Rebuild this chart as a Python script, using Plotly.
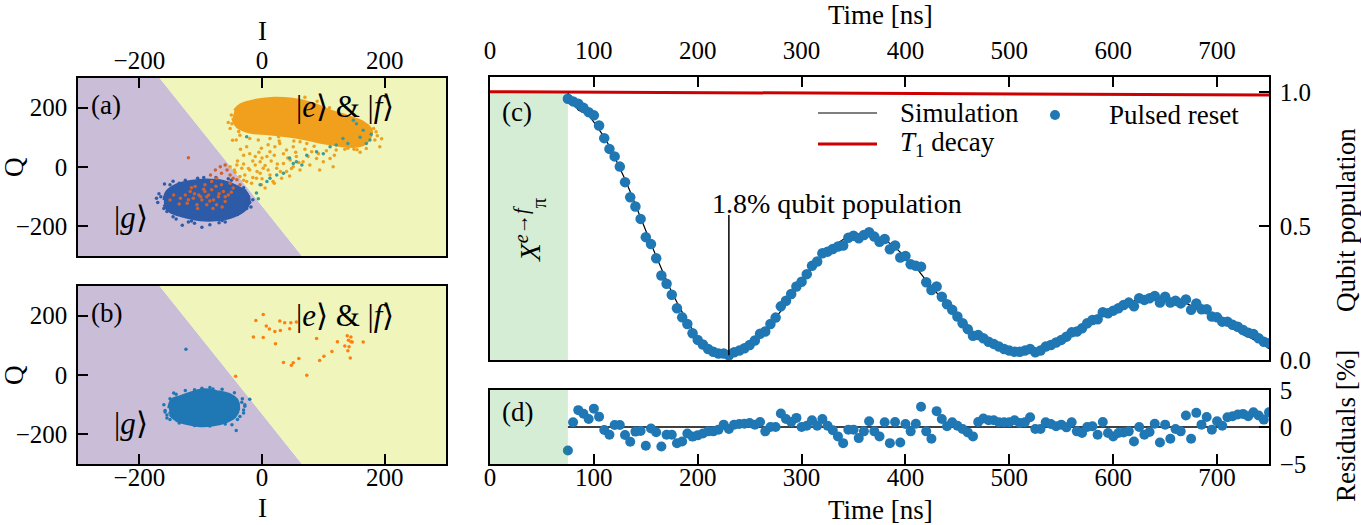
import plotly.graph_objects as go

W, H = 1361, 525
FONT = "Liberation Serif"

# ---------------- IQ readout panels (a) and (b) ----------------
iq_lim = [-300, 300]
iq_ticks = [-200, 0, 200]
# decision boundary between |g> and |e>,|f> (where it meets the top and bottom edges)
boundary_I = [-167, 65]
boundary_Q = [300, -300]

# (a) after the pi pulse: dense |e>/|f> blob outline
gold_core_I = [-45, -35, -10, 20, 50, 80, 110, 140, 165, 178, 175, 160, 130, 100, 70, 40, 10, -20, -40, -48]
gold_core_Q = [190, 210, 225, 232, 228, 215, 190, 170, 150, 125, 95, 72, 72, 82, 95, 105, 112, 118, 135, 165]
gold_I = [-52, -49, -42, -36, -25, -30, -41, -33, -28, -20, -11, -3, 8, 13, 21, 29, 40, 51, 62, 73,
          81, 89, 100, 111, 116, 121, 132, 140, 165, 176, 186, 192, 184, -9, -1, 5, -17, -25, -36, -44,
          -52, -3, 13, 24, 35, 46, 56, 67, 40, 18, 32, 62, 78, 94, 51, 2, -11, -1, 13, -20, -6, 27, 46,
          -45, -40, -30, -22, -15, -8, 0, 5, 10, 15, 20, 25, 30, 35, 42, 48, 55, 60, 70, 75, 85, 92, 105,
          118, 125, 150, 160, -5, -20, -35, 10, 28, 52, -48, -38, 0, -15, 20, -30, 45, 188, 195, 182, -50,
          -55, 170, 155, 135, 70, 90, 110]
gold_Q = [130, 146, 91, 107, 68, 40, 7, -4, -27, -10, 7, 18, 35, 51, 68, 79, 57, 68, 85, 79,
          51, 29, 18, 29, 1, 57, 74, 63, 96, 107, 119, 68, 91, -38, -60, -71, -55, -49, -32, -18,
          1, -21, -27, -4, 12, 24, 35, 18, -15, -49, -38, -10, 7, -10, 1, -4, 35, 63, 96, 96, 91, 102, 107,
          -10, 20, 10, -5, 20, -15, 30, 5, -10, 20, 40, 10, -15, 45, 30, -5, 50, 15, 60, 35, 70, 45, 55,
          40, 85, 60, 50, 50, 45, 60, 75, 88, 88, 90, 120, -40, -35, -55, -45, -30, 105, 95, 130, 175,
          150, 62, 58, 60, 235, 222, 200]
teal_I = [149, 154, 165, 176, 170, 140, 121, 89, 73, 56, 51, 65, 35, 24, 13, 8, -3, -9, -25, 111, 132, -6,
          178, 160, 45, 100]
teal_Q = [158, 146, 124, 91, 79, 79, 74, 51, 40, 18, 12, 7, -21, -27, -38, -49, -60, -88, 102, 68, 96, -107,
          110, 100, 30, 45]
blue_core_a_I = [-160, -155, -139, -117, -90, -63, -41, -25, -21, -28, -47, -74, -101, -128, -150, -160]
blue_core_a_Q = [-111, -83, -60, -49, -44, -49, -66, -88, -116, -144, -166, -178, -178, -166, -150, -127]
blue_a_I = [-159, -98, -130, -165, -150, -30, -20, -40, -60, -140, -110, -170, -125, -75, -50, -35, -160, -85,
            -145, -105, -65, -22, -18, -172, -120, -168, -155, -135, -95, -55, -28, -15, -25, -70, -115, -145]
blue_a_Q = [-57, -203, -196, -100, -60, -70, -120, -160, -185, -175, -190, -120, -45, -35, -45, -150, -140, -195,
            -48, -38, -180, -100, -135, -105, -185, -90, -150, -55, -35, -40, -80, -110, -140, -188, -182, -168]
verm_I = [-84, -76, -68, -60, -57, -52, -47, -41, -66, -74, -82, -52, -36, -93, -103, -112, -98, -87, -79,
          -71, -63, -55, -47, -117, -122, -106, -90, -74, -60, -133, -144, -150, -93, -82, -66, -109, -125,
          -120, -100, -85, -70, -110, -95, -60, -120, -80, -105, -65, -135, -50, -90, -75, -115]
verm_Q = [-27, -10, 1, 7, -10, -27, -38, -43, -21, -38, -49, -55, -60, -60, -94, -105, -111, -94, -111,
          -100, -83, -94, -71, -83, -122, -127, -127, -127, -116, -105, -94, -111, -83, -77, -60, -66, -94,
          31, -100, -115, -90, -90, -75, -100, -110, -140, -140, -135, -125, -85, -100, -65, -70]

# (b) after pulsed reset
blue_core_b_I = [-152, -147, -133, -117, -95, -74, -52, -41, -38, -44, -57, -79, -101, -122, -139, -150]
blue_core_b_Q = [-112, -84, -73, -61, -50, -56, -67, -84, -112, -140, -156, -168, -171, -164, -153, -134]
blue_b_I = [-124, -20, -42, -155, -144, -98, -28, -36, -49, -150, -30, -110, -80, -158, -33,
            -160, -158, -150, -140, -125, -85, -65, -45, -32, -28, -30, -40, -60, -85, -110, -135, -150, -155]
blue_b_Q = [87, -82, -187, -145, -61, -45, -100, -140, -168, -128, -118, -50, -47, -120, -92,
            -100, -125, -80, -65, -52, -42, -48, -60, -80, -105, -128, -150, -165, -172, -170, -162, -150, -135]
orange_b_I = [2, -10, 29, 37, 47, 56, 7, 12, 21, 30, 45, -14, 2, 22, 89, 123, 139, 145, 141, 145, 147,
              135, 142, 140, 165, 114, 101, 94, 60, 35, 51, 48, 144, 73, -43]
orange_b_Q = [204, 184, 182, 176, 176, 179, 165, 155, 147, 150, 156, 128, 126, 105, 123, 112, 132, 128,
              117, 112, 111, 98, 95, 82, 111, 79, 63, 49, 56, 42, 41, 33, 57, -1, -4]

# ---------------- time traces (c) and (d) ----------------
time_ns = list(range(75, 755, 5))
pulsed = [0.974, 0.964, 0.955, 0.940, 0.924, 0.912, 0.874, 0.827, 0.787, 0.759, 0.721, 0.663, 0.607, 0.572,
          0.526, 0.458, 0.432, 0.379, 0.315, 0.284, 0.243, 0.193, 0.159, 0.134, 0.100, 0.075, 0.058, 0.041,
          0.031, 0.024, 0.024, 0.018, 0.029, 0.035, 0.044, 0.056, 0.073, 0.098, 0.106, 0.134, 0.158, 0.200,
          0.221, 0.246, 0.274, 0.292, 0.320, 0.351, 0.367, 0.398, 0.404, 0.414, 0.423, 0.427, 0.456, 0.463,
          0.454, 0.466, 0.476, 0.460, 0.441, 0.451, 0.413, 0.427, 0.382, 0.388, 0.357, 0.351, 0.348, 0.290,
          0.261, 0.274, 0.236, 0.208, 0.187, 0.162, 0.137, 0.115, 0.090, 0.093, 0.081, 0.068, 0.060, 0.050,
          0.041, 0.035, 0.031, 0.031, 0.035, 0.041, 0.029, 0.035, 0.050, 0.056, 0.065, 0.075, 0.087, 0.103,
          0.106, 0.118, 0.137, 0.149, 0.152, 0.178, 0.174, 0.184, 0.193, 0.205, 0.214, 0.200, 0.230, 0.224,
          0.230, 0.239, 0.214, 0.236, 0.214, 0.221, 0.211, 0.226, 0.187, 0.211, 0.189, 0.189, 0.162, 0.159,
          0.143, 0.143, 0.131, 0.124, 0.112, 0.102, 0.097, 0.081, 0.068, 0.062]
simulation = [0.995, 0.958, 0.932, 0.922, 0.913, 0.887, 0.860, 0.831, 0.797, 0.756, 0.718, 0.674, 0.627,
              0.578, 0.532, 0.483, 0.434, 0.386, 0.341, 0.294, 0.253, 0.215, 0.179, 0.143, 0.113, 0.086,
              0.067, 0.047, 0.037, 0.028, 0.021, 0.021, 0.026, 0.031, 0.040, 0.051, 0.070, 0.091, 0.112,
              0.134, 0.158, 0.182, 0.210, 0.239, 0.262, 0.292, 0.318, 0.342, 0.365, 0.387, 0.402, 0.419,
              0.436, 0.449, 0.460, 0.467, 0.469, 0.472, 0.468, 0.466, 0.454, 0.445, 0.435, 0.420, 0.403,
              0.384, 0.363, 0.346, 0.321, 0.296, 0.277, 0.253, 0.225, 0.207, 0.181, 0.160, 0.140, 0.122,
              0.103, 0.086, 0.070, 0.059, 0.051, 0.044, 0.035, 0.029, 0.022, 0.026, 0.029, 0.028, 0.032,
              0.038, 0.044, 0.052, 0.064, 0.072, 0.087, 0.097, 0.112, 0.126, 0.137, 0.148, 0.162, 0.171,
              0.182, 0.197, 0.201, 0.212, 0.220, 0.220, 0.230, 0.234, 0.237, 0.235, 0.235, 0.233, 0.230,
              0.224, 0.217, 0.211, 0.203, 0.192, 0.186, 0.175, 0.166, 0.151, 0.141, 0.130, 0.116, 0.107,
              0.094, 0.087, 0.077, 0.066, 0.058, 0.042]
residuals = [-3.18, 0.64, 2.28, 1.80, 1.09, 2.48, 1.40, -0.40, -1.04, 0.28, 0.28, -1.08, -2.00, -0.62, -0.55,
             -2.54, -0.20, -0.70, -2.64, -1.04, -1.04, -2.20, -1.95, -0.88, -1.30, -1.13, -0.88, -0.59, -0.59,
             -0.36, 0.32, -0.27, 0.32, 0.41, 0.45, 0.55, 0.32, 0.68, -0.59, 0.00, 0.00, 1.82, 1.09, 0.68, 1.23,
             0.00, 0.18, 0.91, 0.18, 1.09, 0.18, -0.45, -1.27, -2.18, -0.36, -0.36, -1.50, -0.59, 0.77, -0.59,
             -1.27, 0.64, -2.18, 0.68, -2.09, 0.40, -0.59, 0.45, 2.73, -0.59, -1.59, 2.14, 1.09, 0.09, 0.64,
             0.18, -0.27, -0.73, -1.27, 0.68, 1.14, 0.91, 0.91, 0.64, 0.64, 0.64, 0.91, 0.55, 0.64, 1.32,
             -0.27, -0.27, 0.64, 0.41, 0.09, 0.32, -0.05, 0.64, -0.59, -0.82, 0.00, 0.09, -1.04, 0.68, -0.82,
             -1.27, -0.82, -0.73, -0.59, -1.95, 0.00, -1.04, -0.68, 0.45, -2.09, 0.32, -1.59, -0.27, -0.59,
             1.55, -1.59, 1.91, 0.32, 1.36, -0.36, 0.77, 0.18, 1.32, 1.46, 1.68, 1.77, 1.46, 2.00, 1.55, 1.00,
             2.00]
t1_time = [0, 150, 300, 450, 600, 750]
t1_pop = [1.000, 0.998, 0.995, 0.993, 0.990, 0.988]
pulse_window = [0, 75]
resid_zero_t = [75, 750]
resid_zero = [0, 0]
min_time, min_pop, min_label_pop = 230, 0.018, 0.541
time_range = [0, 750]
time_ticks = [0, 100, 200, 300, 400, 500, 600, 700]
pop_range = [0, 1.055]
pop_ticks = [0.0, 0.5, 1.0]
resid_range = [-5, 5]
resid_ticks = [-5, 0, 5]

# colours
PURPLE_BG = "#c9bdd7"
YELLOW_BG = "#eff5bb"
GOLD = "#f0a01c"
TEAL = "#3a9b9b"
DARK_BLUE = "#2d5ba8"
VERMILION = "#d2612c"
C_BLUE = "#1f77b4"
C_ORANGE = "#ff7f0e"
GREEN_SPAN = "rgba(44,160,44,0.2)"
RED = "#cc0000"

TXT = 27
TICK = 25


def minus(v):
    return f"{v:g}".replace("-", "\u2212")


def px(x):
    return x / W


def py(y):
    return 1 - y / H


fig = go.Figure()


def cloud(xs, ys, color, xa, ya):
    fig.add_trace(go.Scatter(x=xs, y=ys, mode="lines", fill="toself", fillcolor=color,
                             line=dict(color=color, width=3, shape="spline"), xaxis=xa, yaxis=ya,
                             hoverinfo="skip"))


def dots(xs, ys, color, xa, ya, size=3.5):
    fig.add_trace(go.Scatter(x=xs, y=ys, mode="markers", marker=dict(color=color, size=size, line=dict(width=0)),
                             xaxis=xa, yaxis=ya, hoverinfo="skip"))


# (a)
cloud(blue_core_a_I, blue_core_a_Q, DARK_BLUE, "x", "y")
dots(blue_a_I, blue_a_Q, DARK_BLUE, "x", "y")
dots(verm_I, verm_Q, VERMILION, "x", "y")
cloud(gold_core_I, gold_core_Q, GOLD, "x", "y")
dots(gold_I, gold_Q, GOLD, "x", "y")
dots(teal_I, teal_Q, TEAL, "x", "y")
# (b)
cloud(blue_core_b_I, blue_core_b_Q, C_BLUE, "x2", "y2")
dots(blue_b_I, blue_b_Q, C_BLUE, "x2", "y2")
dots(orange_b_I, orange_b_Q, C_ORANGE, "x2", "y2")

# (c)
fig.add_trace(go.Scatter(x=t1_time, y=t1_pop, mode="lines", line=dict(color=RED, width=3),
                         xaxis="x3", yaxis="y3", hoverinfo="skip"))
fig.add_trace(go.Scatter(x=time_ns, y=simulation, mode="lines", line=dict(color="black", width=1.2),
                         xaxis="x3", yaxis="y3", hoverinfo="skip"))
fig.add_trace(go.Scatter(x=time_ns, y=pulsed, mode="markers", marker=dict(color=C_BLUE, size=10.5, line=dict(width=0)),
                         xaxis="x3", yaxis="y3", hoverinfo="skip"))
# (d)
fig.add_trace(go.Scatter(x=resid_zero_t, y=resid_zero, mode="lines", line=dict(color="black", width=1.5),
                         xaxis="x4", yaxis="y4", hoverinfo="skip"))
fig.add_trace(go.Scatter(x=time_ns, y=residuals, mode="markers", marker=dict(color=C_BLUE, size=10, line=dict(width=0)),
                         xaxis="x4", yaxis="y4", hoverinfo="skip"))

shapes = []
for xr, yr in (("x", "y"), ("x2", "y2")):
    lo, hi = iq_lim
    purple = f"M {lo} {hi} L {boundary_I[0]} {boundary_Q[0]} L {boundary_I[1]} {boundary_Q[1]} L {lo} {lo} Z"
    yellow = f"M {boundary_I[0]} {boundary_Q[0]} L {hi} {hi} L {hi} {lo} L {boundary_I[1]} {boundary_Q[1]} Z"
    shapes.append(dict(type="path", path=purple, xref=xr, yref=yr, fillcolor=PURPLE_BG, line=dict(width=0), layer="below"))
    shapes.append(dict(type="path", path=yellow, xref=xr, yref=yr, fillcolor=YELLOW_BG, line=dict(width=0), layer="below"))

shapes.append(dict(type="rect", xref="x3", yref="y3", x0=pulse_window[0], x1=pulse_window[1], y0=0, y1=1.0,
                   fillcolor=GREEN_SPAN, line=dict(width=0), layer="below"))
shapes.append(dict(type="rect", xref="x4", yref="y4", x0=pulse_window[0], x1=pulse_window[1],
                   y0=resid_range[0], y1=resid_range[1], fillcolor=GREEN_SPAN, line=dict(width=0), layer="above"))
shapes.append(dict(type="line", xref="x3", yref="y3", x0=min_time, x1=min_time, y0=min_pop, y1=min_label_pop,
                   line=dict(color="black", width=1.5)))
# legend samples
shapes.append(dict(type="line", xref="paper", yref="paper", x0=px(818), x1=px(877), y0=py(113), y1=py(113),
                   line=dict(color="black", width=1.2)))
shapes.append(dict(type="line", xref="paper", yref="paper", x0=px(818), x1=px(877), y0=py(144), y1=py(144),
                   line=dict(color=RED, width=3)))
shapes.append(dict(type="circle", xref="paper", yref="paper", x0=px(1050), x1=px(1060), y0=py(120), y1=py(110),
                   fillcolor=C_BLUE, line=dict(width=0)))

ann = []


def text(x, y, s, size=TXT, angle=0, xanchor="center"):
    ann.append(dict(x=px(x), y=py(y), xref="paper", yref="paper", text=s, showarrow=False,
                    font=dict(family=FONT, size=size, color="black"), textangle=angle,
                    xanchor=xanchor, yanchor="middle"))


text(262, 31, "I")
text(14, 167, "Q", angle=-90)
text(14, 375, "Q", angle=-90)
text(262, 508, "I")
text(880, 15, "Time [ns]")
text(880, 510, "Time [ns]")
text(1346, 220, "Qubit population", angle=-90)
text(1346, 426, "Residuals [%]", angle=-90)
text(106, 105, "(a)")
text(106, 313, "(b)")
text(517, 112, "(c)")
text(517, 412, "(d)")
text(345, 107, "|<i>e</i>⟩ &amp; |<i>f</i>⟩", size=31)
text(131, 218, "|<i>g</i>⟩", size=31)
text(345, 315, "|<i>e</i>⟩ &amp; |<i>f</i>⟩", size=31)
text(131, 423, "|<i>g</i>⟩", size=31)
text(837, 203, "1.8% qubit population", size=28)
text(530, 230, "<i>X</i><sup><i>e</i>→<i>f</i></sup><sub>π</sub>", size=29, angle=-90)
text(898, 113, "Simulation", xanchor="left")
text(898, 144, "<i>T</i><sub>1</sub> decay", xanchor="left")
text(1107, 115, "Pulsed reset", xanchor="left")

tickfont = dict(family=FONT, size=TICK, color="black")
base = dict(showline=True, linecolor="black", linewidth=1.5, mirror=True, ticks="inside", ticklen=10,
            tickwidth=1.5, tickcolor="black", showgrid=False, zeroline=False, tickfont=tickfont,
            automargin=False)

xa_dom = [px(78), px(446)]
xc_dom = [px(490), px(1269)]

fig.update_layout(
    width=W, height=H, margin=dict(l=0, r=0, t=0, b=0, pad=0, autoexpand=False),
    paper_bgcolor="white", plot_bgcolor="white", showlegend=False,
    xaxis=dict(base, domain=xa_dom, range=iq_lim, side="top", anchor="y", tickvals=iq_ticks,
               ticktext=[minus(v) for v in iq_ticks], ticklabelstandoff=-3),
    yaxis=dict(base, domain=[py(256), py(78)], range=iq_lim, anchor="x", tickvals=iq_ticks,
               ticktext=[minus(v) for v in iq_ticks], ticklabelstandoff=4),
    xaxis2=dict(base, domain=xa_dom, range=iq_lim, side="bottom", anchor="y2", tickvals=iq_ticks,
                ticktext=[minus(v) for v in iq_ticks], ticklabelstandoff=-10),
    yaxis2=dict(base, domain=[py(464), py(286)], range=iq_lim, anchor="x2", tickvals=iq_ticks,
                ticktext=[minus(v) for v in iq_ticks], ticklabelstandoff=4),
    xaxis3=dict(base, domain=xc_dom, range=time_range, side="top", anchor="y3", tickvals=time_ticks,
                ticklabelstandoff=6),
    yaxis3=dict(base, domain=[py(360), py(77)], range=pop_range, side="right", anchor="x3", tickvals=pop_ticks,
                ticktext=[f"{v:.1f}" for v in pop_ticks], ticklabelstandoff=4),
    xaxis4=dict(base, domain=xc_dom, range=time_range, side="bottom", anchor="y4", tickvals=time_ticks,
                ticklabelstandoff=-10),
    yaxis4=dict(base, domain=[py(464), py(390)], range=resid_range, side="right", anchor="x4", tickvals=resid_ticks,
                ticktext=[minus(v) for v in resid_ticks], ticklabelstandoff=4),
    shapes=shapes, annotations=ann,
)

fig.write_html("out.html")
